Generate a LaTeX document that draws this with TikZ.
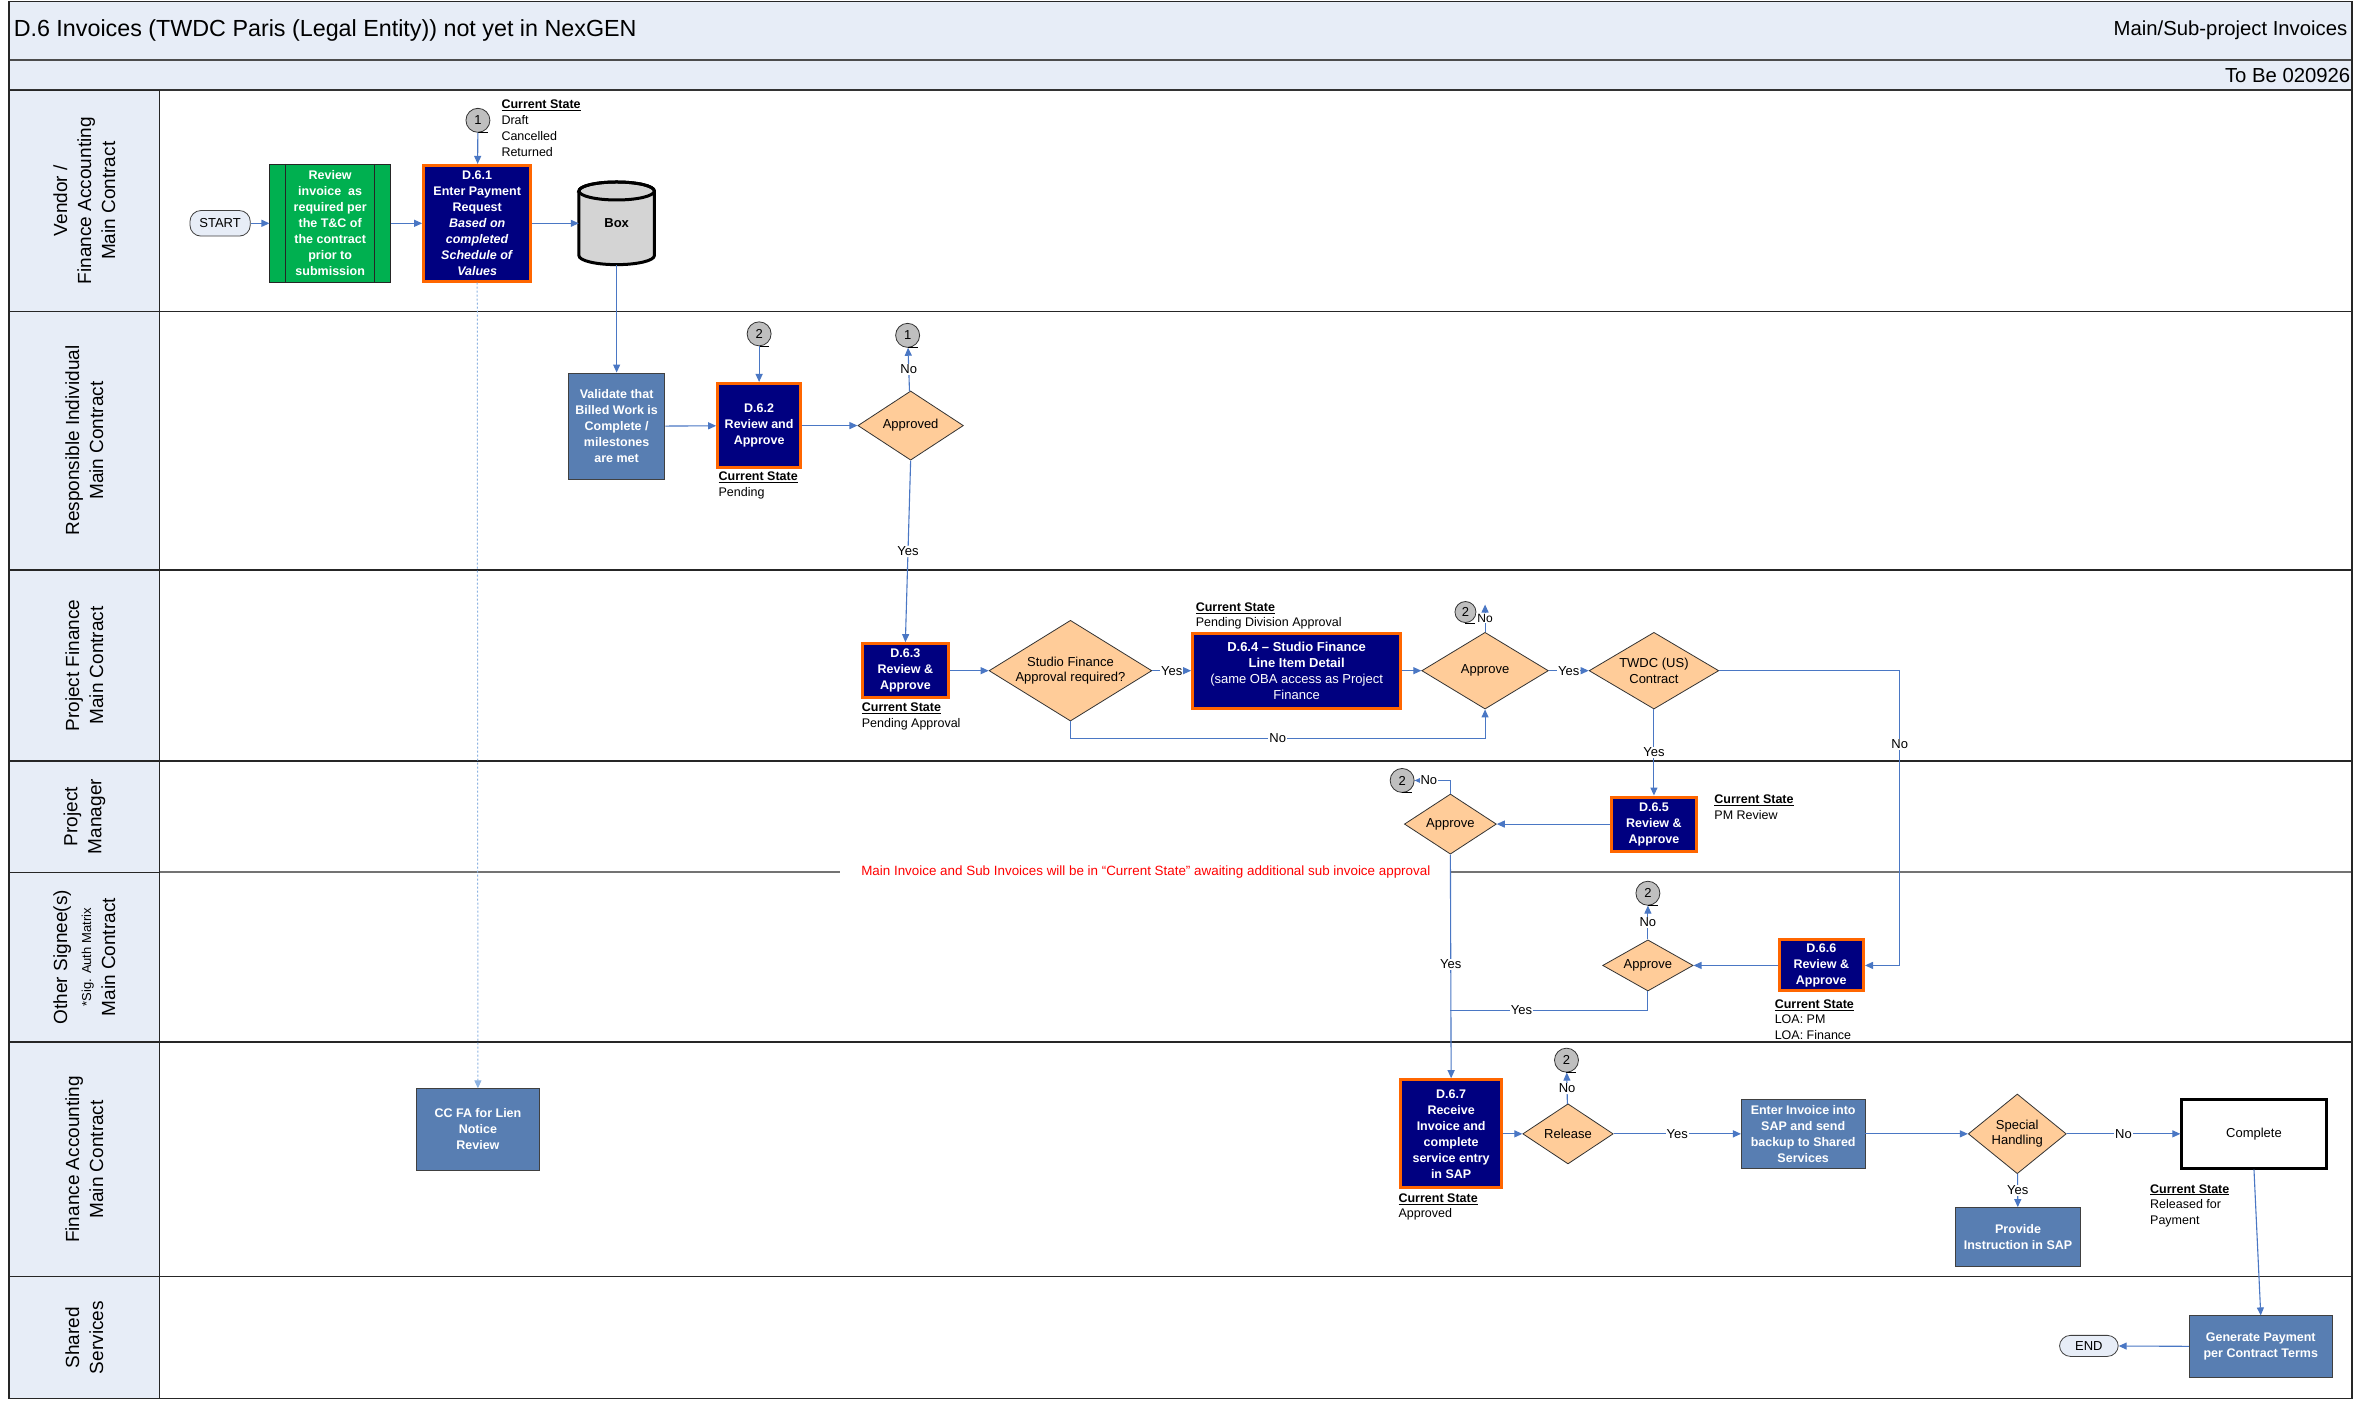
\documentclass[tikz,border=0pt]{standalone}
\usepackage{fontspec}
\setmainfont{Liberation Sans}
\usetikzlibrary{shapes.geometric,arrows.meta}
\definecolor{hdr}{RGB}{231,237,247}
\definecolor{navyb}{RGB}{0,0,128}
\definecolor{orng}{RGB}{255,102,0}
\definecolor{stblue}{RGB}{88,126,178}
\definecolor{grn}{RGB}{0,176,80}
\definecolor{diaf}{RGB}{255,204,153}
\definecolor{arrc}{RGB}{74,119,196}
\definecolor{dashc}{RGB}{141,179,226}
\definecolor{cgray}{RGB}{191,191,191}
\definecolor{lanec}{RGB}{38,38,38}
\newcommand\myfs[2]{\fontsize{#1}{#2}\selectfont}
\begin{document}
\begin{tikzpicture}[x=1.5077pt,y=-1.5038pt,
  bx/.style n args={4}{minimum width={(#3-#1)*1.5077pt}, minimum height={(#4-#2)*1.5038pt}, at={({(#1+#3)/2},{(#2+#4)/2})}, inner sep=0pt},
  navy/.style={rectangle, draw=orng, line width=3pt, fill=navyb, text=white, font=\myfs{12.5}{16}\bfseries, align=center},
  bluebox/.style={rectangle, draw=black!75, line width=0.8pt, fill=stblue, text=white, font=\myfs{12.5}{16}\bfseries, align=center},
  grnbox/.style={rectangle, draw=black!85, line width=0.8pt, fill=grn, text=white, font=\myfs{12.5}{16}\bfseries, align=center},
  term/.style={rectangle, draw=black!75, line width=0.8pt, fill=hdr, rounded corners=11pt, font=\myfs{13}{15}},
  dia/.style={diamond, draw=black!80, line width=0.8pt, fill=diaf, inner sep=0pt, font=\myfs{13}{15.5}, align=center},
  conn/.style={circle, draw=black!80, line width=0.8pt, fill=cgray, inner sep=0pt, minimum size=24pt, font=\myfs{13}{15}},
  arr/.style={draw=arrc, line width=1.1pt, -{Triangle[length=8pt,width=7pt]}},
  lnk/.style={draw=arrc, line width=1.1pt},
  lbl/.style={fill=white, inner sep=1pt, font=\myfs{13}{15}},
  cs/.style={anchor=north west, inner sep=0pt, align=left, font=\myfs{12.5}{15.8}},
  lanelbl/.style={rotate=90, align=center, font=\myfs{19}{24}},
  laneline/.style={draw=lanec, line width=1.3pt}
]
% canvas
\fill[white] (0,0) rectangle (1564,931);
% header
\fill[hdr] (6,1) rectangle (1560,60);
\draw[black!70, line width=2pt] (6,40) -- (1560,40);
\draw[black!80, line width=1.5pt] (6,60) -- (1560,60);
\node[anchor=west, inner sep=0pt, font=\myfs{23.3}{27}] (title) at (9,20) {D.6 Invoices (TWDC Paris (Legal Entity)) not yet in NexGEN};
\node[anchor=east, inner sep=0pt, font=\myfs{20.3}{23}] (sub) at (1557,20) {Main/Sub-project Invoices};
\node[anchor=east, inner sep=0pt, font=\myfs{20.3}{23}] (ver) at (1559,50) {To Be 020926};
% lane label cells
\foreach \a/\b in {60/207,207/379,379/506,506/580,580/693,693/849,849/930}
  \draw[fill=hdr, draw=lanec, line width=1.3pt] (6,\a) rectangle (106,\b);
\node[lanelbl] (L1) at (56,133.5) {Vendor /\\Finance Accounting\\Main Contract};
\node[lanelbl] (L2) at (56,293) {Responsible Individual\\Main Contract};
\node[lanelbl] (L3) at (56,442.5) {Project Finance\\Main Contract};
\node[lanelbl] (L4) at (56,543) {Project\\Manager};
\node[lanelbl] (L5) at (56,636.5) {Other Signee(s)\\{\myfs{13}{15}*Sig. Auth Matrix}\\Main Contract};
\node[lanelbl] (L6) at (56,771) {Finance Accounting\\Main Contract};
\node[lanelbl] (L7) at (56,889.5) {Shared\\Services};
% lane lines
\foreach \yy in {207,379,506,693,849}
  \draw[laneline] (106,\yy) -- (1560,\yy);
\draw[black!55, line width=2pt] (106,580) -- (557,580);
\draw[black!55, line width=2pt] (962,580) -- (1560,580);
\draw[draw=lanec, line width=1.5pt] (6,1) rectangle (1560,930);
\draw[laneline] (106,60) -- (106,930);
\node[text=red, inner sep=1pt, font=\myfs{13.4}{15}] (note) at (760,580) {Main Invoice and Sub Invoices will be in “Current State” awaiting additional sub invoice approval};

% ---- Lane 1
\node[term, bx={126}{140}{166}{157}] (start) {START};
\node[grnbox, bx={179}{109}{259}{188}] (rev) {Review\\invoice~ as\\required per\\the T\&C of\\the contract\\prior to\\submission};
\draw[black!85, line width=0.8pt] (189,109) -- (189,188) (248.5,109) -- (248.5,188);
\node[navy, bx={281}{110}{352}{187}] (d61) {D.6.1\\Enter Payment\\Request\\\textit{Based on}\\\textit{completed}\\\textit{Schedule of}\\\textit{Values}};
\filldraw[fill=black!17, draw=black, line width=3pt] (384,127) -- (384,170) arc[start angle=180, end angle=360, x radius=37.7pt, y radius=9pt] -- (434,127) arc[start angle=0, end angle=180, x radius=37.7pt, y radius=9pt] -- cycle;
\draw[black, line width=3pt] (409,127) ellipse[x radius=37.7pt, y radius=9pt];
\node[rectangle, bx={384}{121}{434}{176}, font=\myfs{13}{15}\bfseries] (box) {Box};
\node[conn] (c1a) at (317,80) {1};
\node[cs] (cs1) at (332.5,66.5) {\underline{\textbf{Current State}}\\Draft\\Cancelled\\Returned};

% ---- Lane 2
\node[bluebox, bx={377}{248}{441}{319}] (val) {Validate that\\Billed Work is\\Complete /\\milestones\\are met};
\node[navy, bx={476}{255}{531}{311}] (d62) {D.6.2\\Review and\\Approve};
\node[conn] (c2a) at (503.5,222) {2};
\node[cs] (cs2) at (476.5,313.5) {\underline{\textbf{Current State}}\\Pending};
\node[dia, minimum width=70*1.5077pt, minimum height=46*1.5038pt, aspect=1.52] (appd) at (604,283) {Approved};
\node[conn] (c1b) at (602,223) {1};

% ---- Lane 3
\node[navy, bx={572}{428}{629}{464}] (d63) {D.6.3\\Review \&\\Approve};
\node[cs] (cs3) at (571.5,467.5) {\underline{\textbf{Current State}}\\Pending Approval};
\node[dia, minimum width=108*1.5077pt, minimum height=67*1.5038pt, aspect=1.61] (sfd) at (710,446) {Studio Finance\\Approval required?};
\node[navy, bx={791}{421}{929}{471}, font=\myfs{13}{15.8}] (d64) {\textbf{D.6.4 – Studio Finance}\\\textbf{Line Item Detail}\\(same OBA access as Project\\Finance};
\node[cs] (cs4) at (793,400.5) {\underline{\textbf{Current State}}\\Pending Division Approval};
\node[dia, minimum width=84*1.5077pt, minimum height=51*1.5038pt, aspect=1.65] (ap1) at (985,446) {Approve};
\node[conn, minimum size=21pt] (c2b) at (972,407) {2};
\coordinate (ap1up) at (985,402);
\node[dia, minimum width=86*1.5077pt, minimum height=51*1.5038pt, aspect=1.69] (twdc) at (1097,446) {TWDC (US)\\Contract};
\coordinate (twr) at (1260,446);
\coordinate (sfno) at (985,491);

% ---- Lane 4
\node[navy, bx={1069}{530}{1125}{566}] (d65) {D.6.5\\Review \&\\Approve};
\node[cs] (cs5) at (1137,528.5) {\underline{\textbf{Current State}}\\PM Review};
\node[dia, minimum width=61*1.5077pt, minimum height=40*1.5038pt, aspect=1.53] (ap2) at (962,548) {Approve};
\node[conn] (c2c) at (930,519) {2};

% ---- Lane 5
\node[navy, bx={1180}{625}{1236}{659}] (d66) {D.6.6\\Review \&\\Approve};
\node[cs] (cs6) at (1177,664.5) {\underline{\textbf{Current State}}\\LOA: PM\\LOA: Finance};
\node[dia, minimum width=60*1.5077pt, minimum height=34*1.5038pt, aspect=1.76] (ap3) at (1093,642) {Approve};
\node[conn] (c2d) at (1093,594) {2};
\coordinate (yesj) at (962,672);

% ---- Lane 6
\node[bluebox, bx={276}{724}{358}{778}] (ccfa) {CC FA for Lien\\Notice\\Review};
\node[navy, bx={929}{718}{996}{790}] (d67) {D.6.7\\Receive\\Invoice and\\complete\\service entry\\in SAP};
\node[cs] (cs7) at (927.5,793.5) {\underline{\textbf{Current State}}\\Approved};
\node[dia, minimum width=60*1.5077pt, minimum height=40*1.5038pt, aspect=1.5] (rel) at (1040,754) {Release};
\node[conn] (c2e) at (1039,705) {2};
\node[bluebox, bx={1155}{731}{1237}{777}] (ent) {Enter Invoice into\\SAP and send\\backup to Shared\\Services};
\node[dia, minimum width=65*1.5077pt, minimum height=53*1.5038pt, aspect=1.23] (sh) at (1338,754) {Special\\Handling};
\node[rectangle, draw=black, line width=2.5pt, fill=white, bx={1447}{731}{1543}{777}, font=\myfs{13}{15}] (comp) {Complete};
\node[bluebox, bx={1297}{803}{1380}{842}] (prov) {Provide\\Instruction in SAP};
\node[cs] (cs8) at (1426,787.5) {\underline{\textbf{Current State}}\\Released for\\Payment};

% ---- Lane 7
\node[bluebox, bx={1452}{875}{1547}{916}] (gen) {Generate Payment\\per Contract Terms};
\node[term, bx={1366}{888}{1405}{902}] (end) {END};

% connector tails
\foreach \c in {c1a,c2a,c1b,c2b,c2c,c2d,c2e}
  \draw[black, line width=0.8pt] (\c.south) -- ++(10pt,0);

% ---- connectors
\draw[arr] (start) -- (rev);
\draw[arr] (rev) -- (d61);
\draw[arr] (d61) -- (box);
\draw[arr] (c1a) -- (d61);
\draw[arr] (box) -- (val);
\draw[draw=dashc, line width=1pt, dash pattern=on 2pt off 2pt, -{Triangle[length=8pt,width=7pt]}] (d61) -- (ccfa);
\draw[arr] (val) -- (d62);
\draw[arr] (c2a) -- (d62);
\draw[arr] (d62) -- (appd);
\draw[arr] (appd) -- node[lbl]{No} (c1b);
\draw[arr] (appd.south) -- node[lbl]{Yes} (d63.north);
\draw[arr] (d63) -- (sfd);
\draw[arr] (sfd) -- node[lbl]{Yes} (d64);
\draw[arr] (d64) -- (ap1);
\draw[arr] (sfd.south) |- node[lbl, pos=0.75]{No} (sfno) -- (ap1.south);
\draw[arr] (ap1.north) -- node[lbl, font=\myfs{12}{14}]{No} (ap1up);
\draw[arr] (ap1) -- node[lbl]{Yes} (twdc);
\draw[arr] (twdc) -- node[lbl]{Yes} (d65);
\draw[arr] (twdc.east) -- (twr) |- node[lbl, pos=0.125]{No} (d66.east);
\draw[arr] (d65) -- (ap2);
\draw[arr] (ap2.north) |- node[lbl, pos=0.8]{No} (c2c.east);
\draw[arr] (ap2.south) -- node[lbl, pos=0.49]{Yes} (d67.north);
\draw[arr] (d66) -- (ap3);
\draw[arr] (ap3) -- node[lbl]{No} (c2d);
\draw[lnk] (ap3.south) |- node[lbl, pos=0.82]{Yes} (yesj);
\draw[arr] (d67) -- (rel);
\draw[arr] (rel) -- node[lbl]{No} (c2e);
\draw[arr] (rel) -- node[lbl]{Yes} (ent);
\draw[arr] (ent) -- (sh);
\draw[arr] (sh) -- node[lbl]{No} (comp);
\draw[arr] (sh) -- node[lbl]{Yes} (prov);
\draw[arr] (comp.south) -- (gen.north);
\draw[arr] (gen) -- (end);
\end{tikzpicture}
\end{document}
